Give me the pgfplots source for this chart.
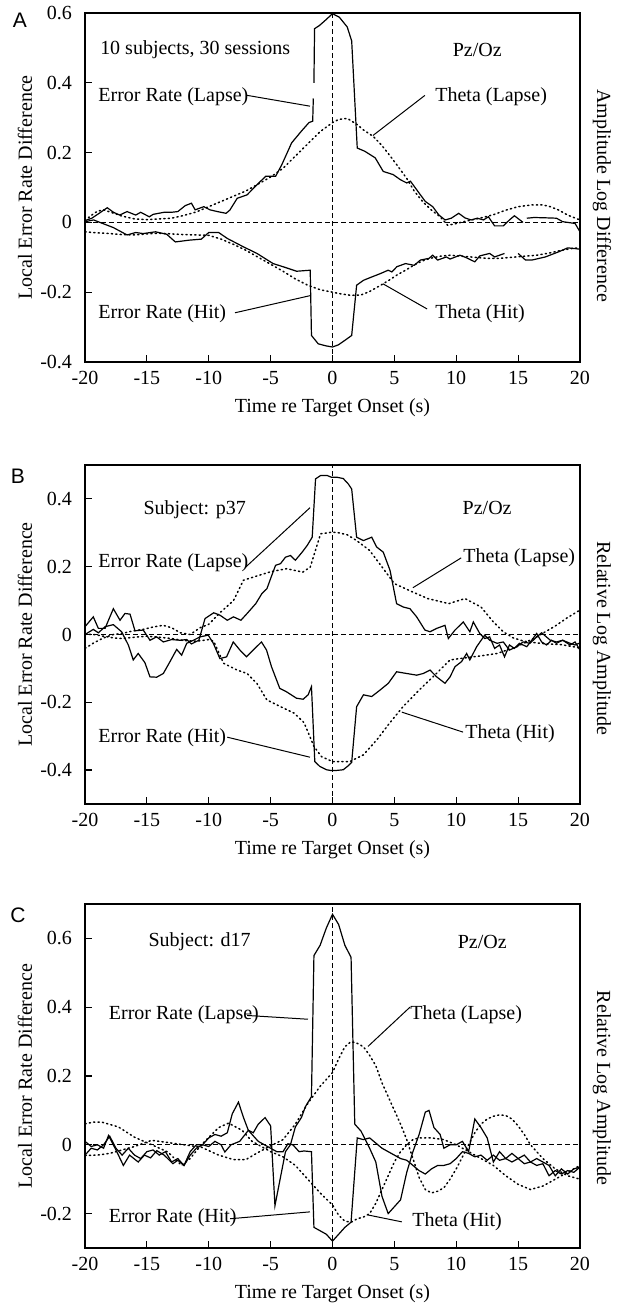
\documentclass[border=0pt]{standalone}
\usepackage{fontspec}
\setmainfont{Liberation Serif}
\newfontfamily\sansf{Liberation Sans}
\usepackage{pgfplots}
\pgfplotsset{compat=1.18}

\tikzset{
  er/.style={black, line width=0.6pt},
  th/.style={black, line width=0.75pt, dash pattern=on 0.6pt off 1.6pt, line cap=round},
  zl/.style={black, line width=0.5pt, dash pattern=on 2.5pt off 1.5pt},
  ann/.style={font=\fontsize{10}{12}\selectfont, inner sep=0pt, anchor=west},
  ldr/.style={black, line width=0.5pt},
}
\pgfplotsset{
  panel/.style={
    scale only axis,
    width=247.5pt,
    xmin=-20, xmax=20,
    xtick={-20,-15,...,20},
    tick pos=left,
    tick align=inside,
    major tick length=3.5pt,
    axis line style={line width=0.6pt},
    every tick/.style={line width=0.6pt, black},
    /pgf/number format/assume math mode=true,
    tick label style={font=\fontsize{10}{12}\selectfont},
    yticklabel style={xshift=-3pt},
    xticklabel style={yshift=-1pt},
    xlabel={Time re Target Onset (s)},
    ylabel={Local Error Rate Difference},
    every axis x label/.style={at={([yshift=-23pt]axis description cs:0.5,0)}, anchor=center, font=\fontsize{10}{12}\selectfont},
    every axis y label/.style={at={([xshift=-30pt]axis description cs:0,0.5)}, anchor=center, rotate=90, font=\fontsize{10}{12}\selectfont},
    clip mode=individual,
    anchor=north west,
  },
}

\begin{document}
\begin{tikzpicture}
\path[use as bounding box] (0,0) rectangle (312pt,654pt);

% ================= Panel A =================
\node[font=\sansf\fontsize{10.5}{12}\selectfont] at (10pt,644pt) {A};
\begin{axis}[panel, at={(42.5pt,647.5pt)}, height=174.5pt,
  ymin=-0.4, ymax=0.6, ytick={-0.4,-0.2,0,0.2,0.4,0.6}]
\addplot[zl] coordinates {(-20,0) (20,0)};
\addplot[zl] coordinates {(0,-0.4) (0,0.6)};
% Error rate (lapse)
\addplot[er] coordinates {(-20,0.005) (-19.45,0.012) (-18.9,0.025) (-18.2,0.042) (-17.7,0.029) (-17.2,0.021) (-16.6,0.031) (-15.9,0.021) (-15.5,0.029) (-14.8,0.016) (-14.5,0.023) (-13.6,0.029) (-13.0,0.029) (-12.5,0.031) (-11.9,0.048) (-11.4,0.055) (-11.1,0.036) (-10.4,0.045) (-9.9,0.036) (-9.3,0.031) (-8.6,0.026) (-8.3,0.035) (-7.7,0.069) (-6.9,0.079) (-6.1,0.108) (-5.4,0.132) (-4.6,0.132) (-4.1,0.165) (-3.3,0.228) (-2.5,0.262) (-1.9,0.286) (-1.6,0.29) (-1.55,0.355)};
\addplot[er] coordinates {(-1.5,0.40) (-1.45,0.555) (-1.06,0.564) (-0.58,0.579) (0,0.598) (0.55,0.588) (1.19,0.56) (1.55,0.52) (2.0,0.213) (2.6,0.204) (3.45,0.185) (4.1,0.146) (4.9,0.137) (5.5,0.122) (6.0,0.113) (6.3,0.118) (7.0,0.084) (7.5,0.06) (8.1,0.045) (8.6,0.021) (9.1,0.007) (9.6,0.012) (10.2,0.026) (10.7,0.013) (11.2,0.007) (11.7,0.012) (12.2,0.007) (12.6,0.016) (13.1,-0.01) (13.8,-0.01) (14.3,0.007) (14.7,0.019) (15.4,0.0)};
\addplot[er] coordinates {(15.7,0.012) (16.3,0.014) (17.3,0.013) (18.1,0.012) (18.6,0.002) (19.6,-0.003) (20,-0.027)};
% Error rate (hit)
\addplot[er] coordinates {(-20,0.002) (-19.3,0.007) (-18.8,0) (-17.7,-0.015) (-16.6,-0.036) (-15.9,-0.029) (-15.3,-0.032) (-14.3,-0.027) (-13.4,-0.034) (-12.7,-0.056) (-11.6,-0.051) (-10.6,-0.048) (-10.0,-0.029) (-9.2,-0.029) (-8.5,-0.046) (-7.2,-0.07) (-6.1,-0.089) (-4.8,-0.118) (-4.0,-0.127) (-2.9,-0.14) (-1.8,-0.137) (-1.7,-0.324) (-1.15,-0.348) (-0.5,-0.354) (0,-0.357) (0.47,-0.351) (1.0,-0.338) (1.55,-0.324) (1.95,-0.18) (2.5,-0.166) (3.2,-0.156) (3.85,-0.147) (4.5,-0.137) (4.8,-0.142) (5.2,-0.127) (5.9,-0.118) (6.6,-0.123) (7.1,-0.108) (7.8,-0.103) (8.1,-0.094) (8.5,-0.108) (9.2,-0.099) (9.5,-0.105) (10.3,-0.094) (10.8,-0.101) (11.5,-0.113) (11.9,-0.096) (12.7,-0.089) (13.1,-0.099) (13.9,-0.089)};
\addplot[er] coordinates {(15.0,-0.089) (15.6,-0.108) (16.1,-0.108) (17.2,-0.099) (18.3,-0.084) (19.0,-0.073) (19.6,-0.075) (20,-0.077)};
% Theta (lapse)
\addplot[th] coordinates {(-20,0.005) (-19.5,0.02) (-19,0.032) (-18.5,0.036) (-18,0.03) (-17,0.018) (-16,0.01) (-15,0.008) (-14,0.01) (-13,0.012) (-12,0.02) (-11,0.03) (-10,0.045) (-9,0.06) (-8,0.075) (-7,0.09) (-6,0.11) (-5,0.13) (-4,0.155) (-3,0.19) (-2,0.225) (-1,0.26) (0,0.286) (0.5,0.295) (1.2,0.298) (2,0.28) (2.5,0.265) (3.3,0.246) (4,0.22) (4.6,0.193) (5.3,0.16) (6,0.126) (6.6,0.09) (7.3,0.059) (8,0.035) (8.7,0.016) (9.3,-0.008) (9.8,-0.005) (10.6,0.002) (11.9,0.012) (13,0.022) (14,0.035) (15,0.045) (16.1,0.05) (17,0.05) (17.6,0.045) (18.3,0.035) (19,0.021) (20,0.007)};
% Theta (hit)
\addplot[th] coordinates {(-20,-0.027) (-19,-0.03) (-18,-0.032) (-17,-0.035) (-16,-0.036) (-15,-0.033) (-14,-0.031) (-13,-0.033) (-12,-0.035) (-11,-0.036) (-10,-0.037) (-9,-0.048) (-8,-0.063) (-7,-0.08) (-6,-0.1) (-5,-0.12) (-4,-0.14) (-3,-0.162) (-2,-0.18) (-1,-0.193) (0,-0.2) (0.7,-0.205) (1.5,-0.209) (2.3,-0.208) (3,-0.198) (3.9,-0.18) (4.6,-0.165) (5.2,-0.151) (6,-0.135) (6.6,-0.122) (7.3,-0.11) (7.9,-0.103) (8.7,-0.097) (9.5,-0.094) (10.5,-0.097) (11.5,-0.1) (12.5,-0.103) (13.5,-0.103) (14.5,-0.1) (15.5,-0.097) (16.5,-0.094) (17.5,-0.088) (18.5,-0.08) (19.3,-0.075) (20,-0.073)};
% annotations
\node[ann] at (axis cs:-18.8,0.494) {10 subjects, 30 sessions};
\node[font=\fontsize{10}{12}\selectfont, inner sep=0pt] at (axis cs:11.7,0.494) {Pz/Oz};
\node[ann] at (axis cs:-18.95,0.359) {Error Rate (Lapse)};
\draw[ldr] (axis cs:-6.9,0.364) -- (axis cs:-1.82,0.333);
\node[ann] at (axis cs:8.28,0.359) {Theta (Lapse)};
\draw[ldr] (axis cs:7.47,0.364) -- (axis cs:3.27,0.249);
\node[ann] at (axis cs:-18.95,-0.262) {Error Rate (Hit)};
\draw[ldr] (axis cs:-7.88,-0.259) -- (axis cs:-1.82,-0.21);
\node[ann] at (axis cs:8.28,-0.262) {Theta (Hit)};
\draw[ldr] (axis cs:7.64,-0.248) -- (axis cs:4.08,-0.176);
\node[rotate=-90, font=\fontsize{10}{12}\selectfont] at ([xshift=11pt,yshift=-4pt]axis description cs:1,0.5) {Amplitude Log Difference};
\end{axis}

% ================= Panel B =================
\node[font=\sansf\fontsize{10.5}{12}\selectfont] at (9pt,416pt) {B};
\begin{axis}[panel, at={(42.5pt,421.5pt)}, height=169.5pt,
  ymin=-0.5, ymax=0.5, ytick={-0.4,-0.2,0,0.2,0.4}]
\addplot[zl] coordinates {(-20,0) (20,0)};
\addplot[zl] coordinates {(0,-0.5) (0,0.5)};
% Error rate (lapse)
\addplot[er] coordinates {(-20,0.023) (-19.33,0.052) (-18.92,0.018) (-18.38,0.018) (-17.71,0.076) (-17.17,0.042) (-16.77,0.062) (-16.36,0.06) (-15.96,0.011) (-15.29,0.013) (-14.75,-0.017) (-14.21,-0.007) (-13.67,-0.022) (-13.0,-0.015) (-12.32,-0.017) (-11.78,-0.015) (-11.4,-0.028) (-10.8,-0.017) (-10.3,0.047) (-9.6,0.064) (-9.1,0.057) (-8.5,0.042) (-8.0,0.052) (-7.4,0.042) (-6.9,0.062) (-6.2,0.091) (-5.7,0.121) (-5.3,0.135) (-4.9,0.175) (-4.6,0.204) (-4.2,0.209) (-3.8,0.228) (-3.4,0.233) (-3.0,0.219) (-2.45,0.243) (-2.04,0.263) (-1.64,0.287) (-1.37,0.459) (-0.96,0.469) (-0.43,0.469) (-0.1,0.464) (0.34,0.464) (0.87,0.46) (1.28,0.444) (1.55,0.429) (1.95,0.287) (2.5,0.277) (3.17,0.287) (3.57,0.258) (4.1,0.243) (4.65,0.189) (5.18,0.091) (5.72,0.081) (6.26,0.076) (6.8,0.052) (7.47,0.013) (7.88,0.008) (8.42,0.018) (9.09,0.027) (9.36,-0.012) (9.9,0.013) (10.57,0.037) (11.1,0.008) (11.38,0.037) (11.9,0.003) (12.3,-0.012) (12.7,-0.007) (13.1,-0.041) (13.5,-0.031) (13.9,-0.066) (14.3,-0.031) (14.7,-0.041) (15.1,-0.026) (15.7,-0.036) (16.1,-0.017) (16.5,0.003) (16.9,-0.022) (17.3,-0.031) (17.7,-0.017) (18.1,-0.026) (18.6,-0.017) (19.2,-0.031) (19.6,-0.022) (20,-0.046)};
% Error rate (hit)
\addplot[er] coordinates {(-20,0) (-19.33,0.015) (-18.92,0.005) (-18.38,0.023) (-17.71,0.029) (-17.04,0.008) (-16.5,-0.031) (-16.1,-0.075) (-15.7,-0.056) (-15.16,-0.083) (-14.75,-0.125) (-14.21,-0.126) (-13.67,-0.115) (-13.13,-0.08) (-12.59,-0.044) (-12.19,-0.061) (-11.78,-0.026) (-11.24,-0.017) (-10.7,-0.007) (-10.04,-0.002) (-9.63,-0.026) (-9.1,-0.071) (-8.56,-0.066) (-8.02,-0.022) (-7.48,-0.046) (-6.95,-0.066) (-6.41,-0.046) (-5.74,-0.022) (-5.33,-0.046) (-4.93,-0.095) (-4.26,-0.159) (-3.72,-0.169) (-2.91,-0.188) (-2.37,-0.191) (-1.97,-0.178) (-1.7,-0.154) (-1.43,-0.375) (-1.03,-0.389) (-0.49,-0.399) (-0.17,-0.401) (0.34,-0.401) (0.87,-0.399) (1.28,-0.387) (1.55,-0.377) (1.95,-0.213) (2.5,-0.178) (3.17,-0.183) (3.84,-0.164) (4.51,-0.144) (5.18,-0.11) (5.99,-0.115) (6.8,-0.12) (7.34,-0.115) (7.88,-0.105) (8.42,-0.125) (9.09,-0.144) (9.5,-0.125) (9.9,-0.095) (10.43,-0.08) (10.84,-0.056) (11.1,-0.075) (11.65,-0.036) (12.3,-0.002) (12.7,-0.017) (13.3,-0.026) (13.8,-0.022) (14.3,-0.046) (14.9,-0.036) (15.4,-0.022) (15.96,-0.026) (16.5,-0.007) (16.9,0.005) (17.6,-0.017) (18.1,-0.022) (18.6,-0.017) (19.2,-0.026) (19.6,-0.031) (20,-0.025)};
% Theta (lapse)
\addplot[th] coordinates {(-20,-0.041) (-19.3,-0.025) (-18.5,-0.01) (-17.7,0.0) (-17,0.003) (-16.2,0.01) (-15.3,0.015) (-14.5,0.022) (-13.7,0.027) (-13,0.02) (-12.3,0.005) (-11.5,0.0) (-10.7,0.02) (-10,0.03) (-9.1,0.064) (-8,0.1) (-7.2,0.16) (-5.9,0.175) (-4.9,0.186) (-3.7,0.194) (-2.4,0.184) (-1.8,0.199) (-0.96,0.297) (0,0.302) (0.5,0.3) (1.2,0.294) (1.95,0.277) (3,0.248) (3.8,0.209) (5.0,0.15) (6.5,0.125) (7.7,0.106) (9.4,0.091) (10.7,0.106) (12,0.081) (13,0.037) (13.8,0.008) (14.6,-0.01) (15.5,-0.02) (16.5,-0.025) (17.5,-0.028) (18.5,-0.03) (19.3,-0.035) (20,-0.04)};
% Theta (hit)
\addplot[th] coordinates {(-20,0.0) (-19.3,0.0) (-18.5,-0.005) (-17.7,-0.01) (-17,-0.012) (-16,-0.008) (-15,-0.005) (-14,-0.008) (-13,-0.012) (-12,-0.018) (-11,-0.02) (-10,-0.015) (-9.6,-0.02) (-8.8,-0.085) (-7.7,-0.105) (-6.9,-0.115) (-6.1,-0.145) (-5.3,-0.193) (-4.2,-0.213) (-3.1,-0.232) (-2.3,-0.26) (-1.5,-0.33) (-0.9,-0.36) (0,-0.375) (1.4,-0.375) (2.5,-0.355) (3.6,-0.31) (4.6,-0.262) (5.7,-0.213) (7,-0.164) (8.4,-0.115) (9.5,-0.075) (10.5,-0.07) (12,-0.063) (13.3,-0.056) (14.9,-0.036) (16.5,-0.007) (18,0.025) (19,0.05) (20,0.072)};
% annotations
\node[ann] at (axis cs:-15.3,0.368) {Subject: p37};
\node[font=\fontsize{10}{12}\selectfont, inner sep=0pt] at (axis cs:12.5,0.374) {Pz/Oz};
\node[ann] at (axis cs:-18.95,0.212) {Error Rate (Lapse)};
\draw[ldr] (axis cs:-7.07,0.197) -- (axis cs:-1.82,0.374);
\node[ann] at (axis cs:10.55,0.226) {Theta (Lapse)};
\draw[ldr] (axis cs:10.4,0.226) -- (axis cs:6.5,0.138);
\node[ann] at (axis cs:-18.95,-0.303) {Error Rate (Hit)};
\draw[ldr] (axis cs:-8.5,-0.303) -- (axis cs:-1.82,-0.362);
\node[ann] at (axis cs:10.7,-0.294) {Theta (Hit)};
\draw[ldr] (axis cs:10.55,-0.288) -- (axis cs:5.6,-0.229);
\node[rotate=-90, font=\fontsize{10}{12}\selectfont] at ([xshift=11pt,yshift=-2pt]axis description cs:1,0.5) {Relative Log Amplitude};
\end{axis}

% ================= Panel C =================
\node[font=\sansf\fontsize{10.5}{12}\selectfont] at (9pt,196.5pt) {C};
\begin{axis}[panel, at={(42.5pt,202pt)}, height=172pt,
  ymin=-0.3, ymax=0.7, ytick={-0.2,0,0.2,0.4,0.6}]
\addplot[zl] coordinates {(-20,0) (20,0)};
\addplot[zl] coordinates {(0,-0.3) (0,0.7)};
% Error rate (lapse)
\addplot[er] coordinates {(-20,-0.03) (-19.5,-0.01) (-19,-0.015) (-18.5,0.0) (-18,0.025) (-17.5,-0.01) (-17,-0.03) (-16.5,-0.01) (-16,-0.03) (-15.5,-0.04) (-15,-0.02) (-14.5,-0.015) (-14,-0.03) (-13.5,-0.02) (-13,-0.05) (-12.5,-0.04) (-12,-0.06) (-11.5,-0.03) (-11,-0.01) (-10.5,0.0) (-10,-0.005) (-9.5,0.01) (-9,0.0) (-8.7,-0.021) (-8.2,0.0) (-7.5,0.01) (-6.8,0.042) (-6.4,0.035) (-6,0.06) (-5.45,0.079) (-5,0.055) (-4.65,-0.177) (-3.8,-0.02) (-3.4,0.0) (-3,0.052) (-2.5,0.08) (-2.2,0.11) (-1.7,0.14) (-1.5,0.55) (-1,0.58) (-0.5,0.63) (0,0.67) (0.5,0.64) (1,0.58) (1.5,0.545) (1.8,0.06) (2.3,0.04) (3,-0.01) (3.5,-0.05) (4,-0.15) (4.5,-0.2) (5,-0.18) (5.5,-0.16) (6,-0.08) (6.5,-0.02) (7,0.03) (7.5,0.095) (7.8,0.1) (8.2,0.05) (8.7,0.03) (9,-0.01) (9.5,0.0) (10,0.0) (10.5,0.01) (11,-0.02) (11.5,0.075) (12,0.05) (12.5,0.02) (13,-0.05) (13.5,-0.02) (14,-0.04) (14.5,-0.025) (15,-0.04) (15.5,-0.03) (16,-0.05) (16.5,-0.04) (17,-0.05) (17.5,-0.06) (18,-0.09) (18.5,-0.07) (19,-0.085) (19.5,-0.07) (20,-0.065)};
% Error rate (hit)
\addplot[er] coordinates {(-20,0.01) (-19.5,-0.005) (-19,0.0) (-18.5,-0.01) (-18.1,0.027) (-17.5,-0.015) (-16.9,-0.06) (-16.4,-0.03) (-15.7,-0.05) (-15.2,-0.03) (-14.7,-0.038) (-14.2,-0.017) (-13.6,-0.03) (-12.9,-0.055) (-12.5,-0.045) (-12.0,-0.06) (-11.5,-0.02) (-11.0,0.0) (-10.5,0.0) (-10,0.02) (-9.5,0.03) (-9.0,0.025) (-8.5,0.035) (-8.1,0.09) (-7.6,0.124) (-7.2,0.08) (-6.8,0.042) (-6.5,0.03) (-6,0.01) (-5.5,0.0) (-5,-0.01) (-4.5,-0.02) (-4,-0.02) (-3.6,0.003) (-3.2,0.0) (-2.7,-0.02) (-2.3,-0.018) (-1.7,-0.02) (-1.5,-0.24) (-1,-0.25) (-0.5,-0.26) (0,-0.28) (0.5,-0.26) (1,-0.24) (1.5,-0.225) (2,0.02) (2.5,0.015) (3,0.02) (3.5,0.005) (4,-0.01) (4.5,-0.02) (5,-0.03) (5.5,-0.04) (6,-0.045) (6.5,-0.06) (7,-0.075) (7.5,-0.085) (8,-0.07) (8.5,-0.06) (9,-0.06) (9.5,-0.055) (10,-0.04) (10.5,-0.02) (11,-0.025) (11.5,-0.035) (12,-0.03) (12.5,-0.045) (13,-0.03) (13.5,-0.045) (14,-0.04) (14.5,-0.05) (15,-0.04) (15.5,-0.055) (16,-0.05) (16.5,-0.06) (17,-0.055) (17.5,-0.09) (18,-0.075) (18.5,-0.085) (19,-0.075) (19.5,-0.08) (20,-0.065)};
% Theta (lapse)
\addplot[th] coordinates {(-20,-0.031) (-19,-0.03) (-18,-0.025) (-17,-0.015) (-16,-0.005) (-15,0.008) (-14.6,0.013) (-13,0.005) (-12,0.0) (-10.6,-0.007) (-9.2,-0.03) (-8,-0.043) (-7,-0.043) (-6,-0.022) (-5,-0.003) (-4,0.015) (-3,0.06) (-2,0.12) (-1,0.17) (0,0.21) (0.5,0.25) (1,0.285) (1.5,0.3) (2,0.295) (2.5,0.285) (3,0.26) (3.5,0.23) (4,0.18) (4.5,0.14) (5,0.1) (5.5,0.06) (6,0.015) (6.5,-0.04) (7,-0.095) (7.5,-0.13) (8,-0.14) (8.5,-0.135) (9,-0.125) (9.5,-0.1) (10,-0.07) (10.5,-0.035) (11,0.0) (11.5,0.035) (12,0.06) (12.5,0.075) (13,0.083) (13.5,0.087) (14,0.085) (14.5,0.075) (15,0.055) (15.5,0.03) (16,0.0) (16.5,-0.02) (17,-0.04) (18,-0.07) (19,-0.09) (20,-0.1)};
% Theta (hit)
\addplot[th] coordinates {(-20,0.061) (-19.3,0.066) (-18.65,0.066) (-17.3,0.052) (-16,0.022) (-14.6,0.0) (-13.3,-0.021) (-12.2,-0.06) (-11.5,-0.04) (-10.6,0.0) (-9.2,0.05) (-8.4,0.063) (-7.3,0.042) (-6.5,0.01) (-5,-0.02) (-4,-0.035) (-3,-0.06) (-2,-0.1) (-1,-0.14) (0,-0.175) (0.5,-0.205) (1,-0.222) (1.5,-0.225) (2,-0.215) (2.5,-0.21) (3,-0.2) (3.5,-0.17) (4,-0.13) (4.5,-0.09) (5,-0.05) (5.5,-0.02) (6,0.0) (6.5,0.015) (7,0.02) (8,0.02) (9,0.015) (10,0.0) (10.5,-0.01) (11,-0.02) (12,-0.04) (13,-0.06) (14,-0.09) (15,-0.115) (16,-0.13) (17,-0.12) (18,-0.1) (19,-0.08) (20,-0.06)};
% annotations
\node[ann] at (axis cs:-14.9,0.589) {Subject: d17};
\node[font=\fontsize{10}{12}\selectfont, inner sep=0pt] at (axis cs:12.1,0.589) {Pz/Oz};
\node[ann] at (axis cs:-18.1,0.379) {Error Rate (Lapse)};
\draw[ldr] (axis cs:-6.9,0.376) -- (axis cs:-1.98,0.365);
\node[ann] at (axis cs:6.26,0.379) {Theta (Lapse)};
\draw[ldr] (axis cs:6.26,0.40) -- (axis cs:2.87,0.286);
\node[ann] at (axis cs:-18.1,-0.213) {Error Rate (Hit)};
\draw[ldr] (axis cs:-8.28,-0.215) -- (axis cs:-1.82,-0.195);
\node[ann] at (axis cs:6.42,-0.224) {Theta (Hit)};
\draw[ldr] (axis cs:5.6,-0.224) -- (axis cs:2.87,-0.204);
\node[rotate=-90, font=\fontsize{10}{12}\selectfont] at ([xshift=11pt,yshift=-6pt]axis description cs:1,0.5) {Relative Log Amplitude};
\end{axis}
\end{tikzpicture}
\end{document}
